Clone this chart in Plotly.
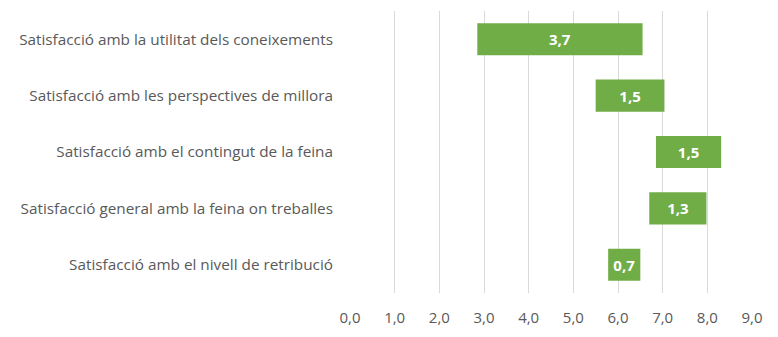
import plotly.graph_objects as go

categories = [
    "Satisfacció amb la utilitat dels coneixements",
    "Satisfacció amb les perspectives de millora",
    "Satisfacció amb el contingut de la feina",
    "Satisfacció general amb la feina on treballes",
    "Satisfacció amb el nivell de retribució",
]
starts = [2.85, 5.5, 6.85, 6.7, 5.78]
lengths = [3.7, 1.54, 1.46, 1.28, 0.72]
labels = ["3,7", "1,5", "1,5", "1,3", "0,7"]
tick_vals = [0, 1, 2, 3, 4, 5, 6, 7, 8, 9]
tick_text = ["0,0", "1,0", "2,0", "3,0", "4,0", "5,0", "6,0", "7,0", "8,0", "9,0"]

fig = go.Figure(go.Bar(
    y=categories, x=lengths, base=starts, orientation="h",
    marker=dict(color="#70ad47", line=dict(width=0)),
    text=labels, textposition="inside", insidetextanchor="middle",
    textfont=dict(color="white", size=15, family="Open Sans"),
    texttemplate="<b>%{text}</b>",
    hoverinfo="skip",
))
fig.update_layout(
    width=778, height=337,
    margin=dict(l=350, r=26, t=11, b=44),
    paper_bgcolor="white", plot_bgcolor="white",
    bargap=0.43,
    showlegend=False,
    font=dict(family="Open Sans", color="#595959", size=13),
    uniformtext=dict(mode=False),
)
fig.update_xaxes(
    range=[0, 9], tickvals=tick_vals, ticktext=tick_text,
    showgrid=True, gridcolor="#d9d9d9", gridwidth=1,
    zeroline=False, showline=False, ticks="",
    ticklabelstandoff=14,
    tickfont=dict(size=15, color="#595959"),
)
fig.update_yaxes(
    autorange="reversed", showgrid=False, zeroline=False, showline=False,
    ticks="", ticklabelstandoff=16,
    tickfont=dict(size=15.3, color="#595959"),
)
fig.write_html("out.html")
